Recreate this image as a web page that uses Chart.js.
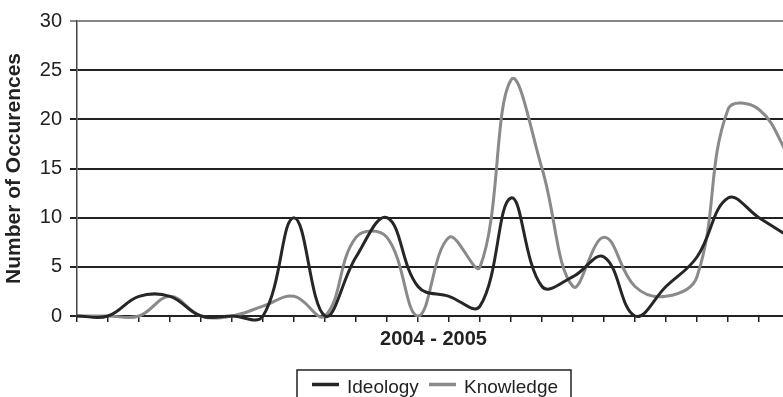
<!DOCTYPE html>
<html>
<head>
<meta charset="utf-8">
<script src="https://cdn.jsdelivr.net/npm/chart.js@4"></script>
<style>
  html, body { margin: 0; padding: 0; overflow: hidden; background: #fff; }
  canvas { display: block; }
</style>
</head>
<body>
<canvas id="occurencesChart" width="800" height="397"></canvas>
<script>
// unlabeled periods across 2004 - 2005
const periods = ['1', '2', '3', '4', '5', '6', '7', '8', '9', '10', '11', '12',
                 '13', '14', '15', '16', '17', '18', '19', '20', '21', '22', '23', '24'];
const ideology = [0, 0, 2, 2, 0, 0, 0, 10, 0, 6, 10, 3, 2, 1, 12, 3, 4, 6, 0, 3, 6, 12, 10, 8];
const knowledge = [0, 0, 0, 2, 0, 0, 1, 2, 0, 8, 8, 0, 8, 5, 24, 15, 3, 8, 3, 2, 4, 21, 21, 16];
const yTicks = [0, 5, 10, 15, 20, 25, 30];

const FONT = "'Liberation Sans', Arial, sans-serif";

// boxed legend under the axis title
const boxedLegend = {
    id: 'boxedLegend',
    afterDraw: (chart) => {
        const ctx = chart.ctx;
        ctx.save();
        ctx.strokeStyle = '#222';
        ctx.lineWidth = 1.5;
        ctx.strokeRect(297, 370, 274, 40);

        const items = [
            { x: 312, ds: chart.data.datasets[0] },
            { x: 429, ds: chart.data.datasets[1] }
        ];
        ctx.font = '19px ' + FONT;
        ctx.textBaseline = 'alphabetic';
        ctx.fillStyle = '#222';
        items.forEach(item => {
            ctx.strokeStyle = item.ds.borderColor;
            ctx.lineWidth = 3.5;
            ctx.beginPath();
            ctx.moveTo(item.x, 384.5);
            ctx.lineTo(item.x + 27, 384.5);
            ctx.stroke();
            ctx.fillText(item.ds.label, item.x + 35, 393);
        });
        ctx.restore();
    }
};

const occurencesCtx = document.getElementById('occurencesChart').getContext('2d');

new Chart(occurencesCtx, {
    type: 'line',
    data: {
        labels: periods,
        datasets: [
            {
                label: 'Ideology',
                data: ideology,
                borderColor: '#262626',
                borderWidth: 3,
                pointRadius: 0,
                tension: 0.4,
                clip: false,
                fill: false
            },
            {
                label: 'Knowledge',
                data: knowledge,
                borderColor: '#8a8a8a',
                borderWidth: 3,
                pointRadius: 0,
                tension: 0.4,
                clip: false,
                fill: false
            }
        ]
    },
    options: {
        responsive: false,
        animation: false,
        layout: { padding: { top: 21, right: 10, left: 0, bottom: 0 } },
        elements: { line: { capBezierPoints: false } },
        plugins: {
            legend: { display: false },
            tooltip: { enabled: false }
        },
        scales: {
            x: {
                offset: false,
                afterFit: (scale) => { scale.height = 81; },
                grid: {
                    drawOnChartArea: false,
                    drawTicks: true,
                    tickLength: 6,
                    color: '#222',
                    lineWidth: 1.5
                },
                border: { display: false },
                ticks: {
                    autoSkip: false,
                    maxRotation: 0,
                    padding: 0,
                    callback: () => ''
                },
                title: {
                    display: true,
                    text: '2004 - 2005',
                    color: '#222',
                    font: { family: FONT, size: 20, weight: 'bold', lineHeight: 1.2 },
                    padding: { top: 0, bottom: 46 }
                }
            },
            y: {
                min: 0,
                max: 30,
                afterFit: (scale) => { scale.width = 77; },
                afterBuildTicks: (scale) => {
                    scale.ticks = yTicks.map(v => ({ value: v }));
                },
                grid: {
                    color: (c) => (c.tick && c.tick.value === 30 ? '#888' : '#222'),
                    lineWidth: 2,
                    tickLength: 7
                },
                border: { color: '#444', width: 1.5 },
                ticks: {
                    color: '#222',
                    padding: 8,
                    font: { family: FONT, size: 20 }
                },
                title: {
                    display: true,
                    text: 'Number of Occurences',
                    color: '#222',
                    font: { family: FONT, size: 21, weight: 'bold', lineHeight: 1.2 },
                    padding: { top: 2, bottom: 0 }
                }
            }
        }
    },
    plugins: [boxedLegend]
});
</script>
</body>
</html>
